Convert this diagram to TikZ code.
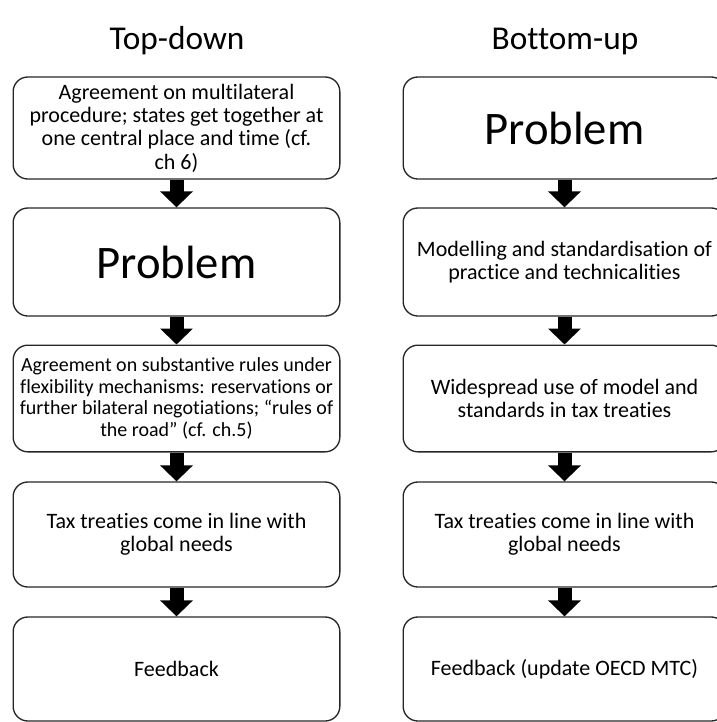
\documentclass[tikz,border=0pt]{standalone}
\usepackage{fontspec}
\setmainfont{Carlito}[Ligatures={NoCommon}]
\usetikzlibrary{arrows.meta}
\tikzset{
	box/.style={draw=black!85, line width=1pt, rounded corners=11pt, align=center,
		inner sep=2pt, font=\fontsize{16.5}{17.5}\selectfont},
	flow/.style={line width=10.5pt, -{Triangle[width=24pt,length=12pt]}},
	heading/.style={font=\fontsize{25}{30}\selectfont}
}
\begin{document}
\begin{tikzpicture}[x=0.75pt, y=-0.75pt, line join=round]
		\useasboundingbox (0,0) rectangle (717,722);
		% headings
		\node[heading] (td) at (177,41) {Top-down};
		\node[heading] (bu) at (565,41) {Bottom-up};
		% top-down column
		\node[box, minimum width=245pt, minimum height=76.5pt] (L1) at (176.5,128)
		{Agreement on multilateral\\procedure; states get together at\\one central place and time (cf.\\ch 6)};
		\node[box, minimum width=245pt, minimum height=81pt, font=\fontsize{35}{40}\selectfont] (L2) at (176.5,262) {Problem};
		\node[box, minimum width=245pt, minimum height=80pt, font=\fontsize{15}{16.3}\selectfont] (L3) at (176.5,398.5)
		{Agreement on substantive rules  under\\flexibility mechanisms: reservations or\\further bilateral negotiations; “rules of\\the road” (cf. ch.5)};
		\node[box, minimum width=245pt, minimum height=78.75pt] (L4) at (176.5,534.5)
		{Tax treaties come in line with\\global needs};
		\node[box, minimum width=245pt, minimum height=78pt] (L5) at (176.5,669) {Feedback};
		% bottom-up column
		\node[box, minimum width=242pt, minimum height=76.5pt, font=\fontsize{35}{40}\selectfont] (R1) at (564.5,128) {Problem};
		\node[box, minimum width=242pt, minimum height=81pt] (R2) at (564.5,262)
		{Modelling and standardisation of\\practice and technicalities};
		\node[box, minimum width=242pt, minimum height=80pt] (R3) at (564.5,398.5)
		{Widespread use of model and\\standards in tax treaties};
		\node[box, minimum width=242pt, minimum height=78.75pt] (R4) at (564.5,534.5)
		{Tax treaties come in line with\\global needs};
		\node[box, minimum width=242pt, minimum height=78pt] (R5) at (564.5,669) {Feedback (update OECD MTC)};
		% arrows
		\draw[flow] (L1) -- (L2);
		\draw[flow] (L2) -- (L3);
		\draw[flow] (L3) -- (L4);
		\draw[flow] (L4) -- (L5);
		\draw[flow] (R1) -- (R2);
		\draw[flow] (R2) -- (R3);
		\draw[flow] (R3) -- (R4);
		\draw[flow] (R4) -- (R5);
	\end{tikzpicture}
\end{document}
